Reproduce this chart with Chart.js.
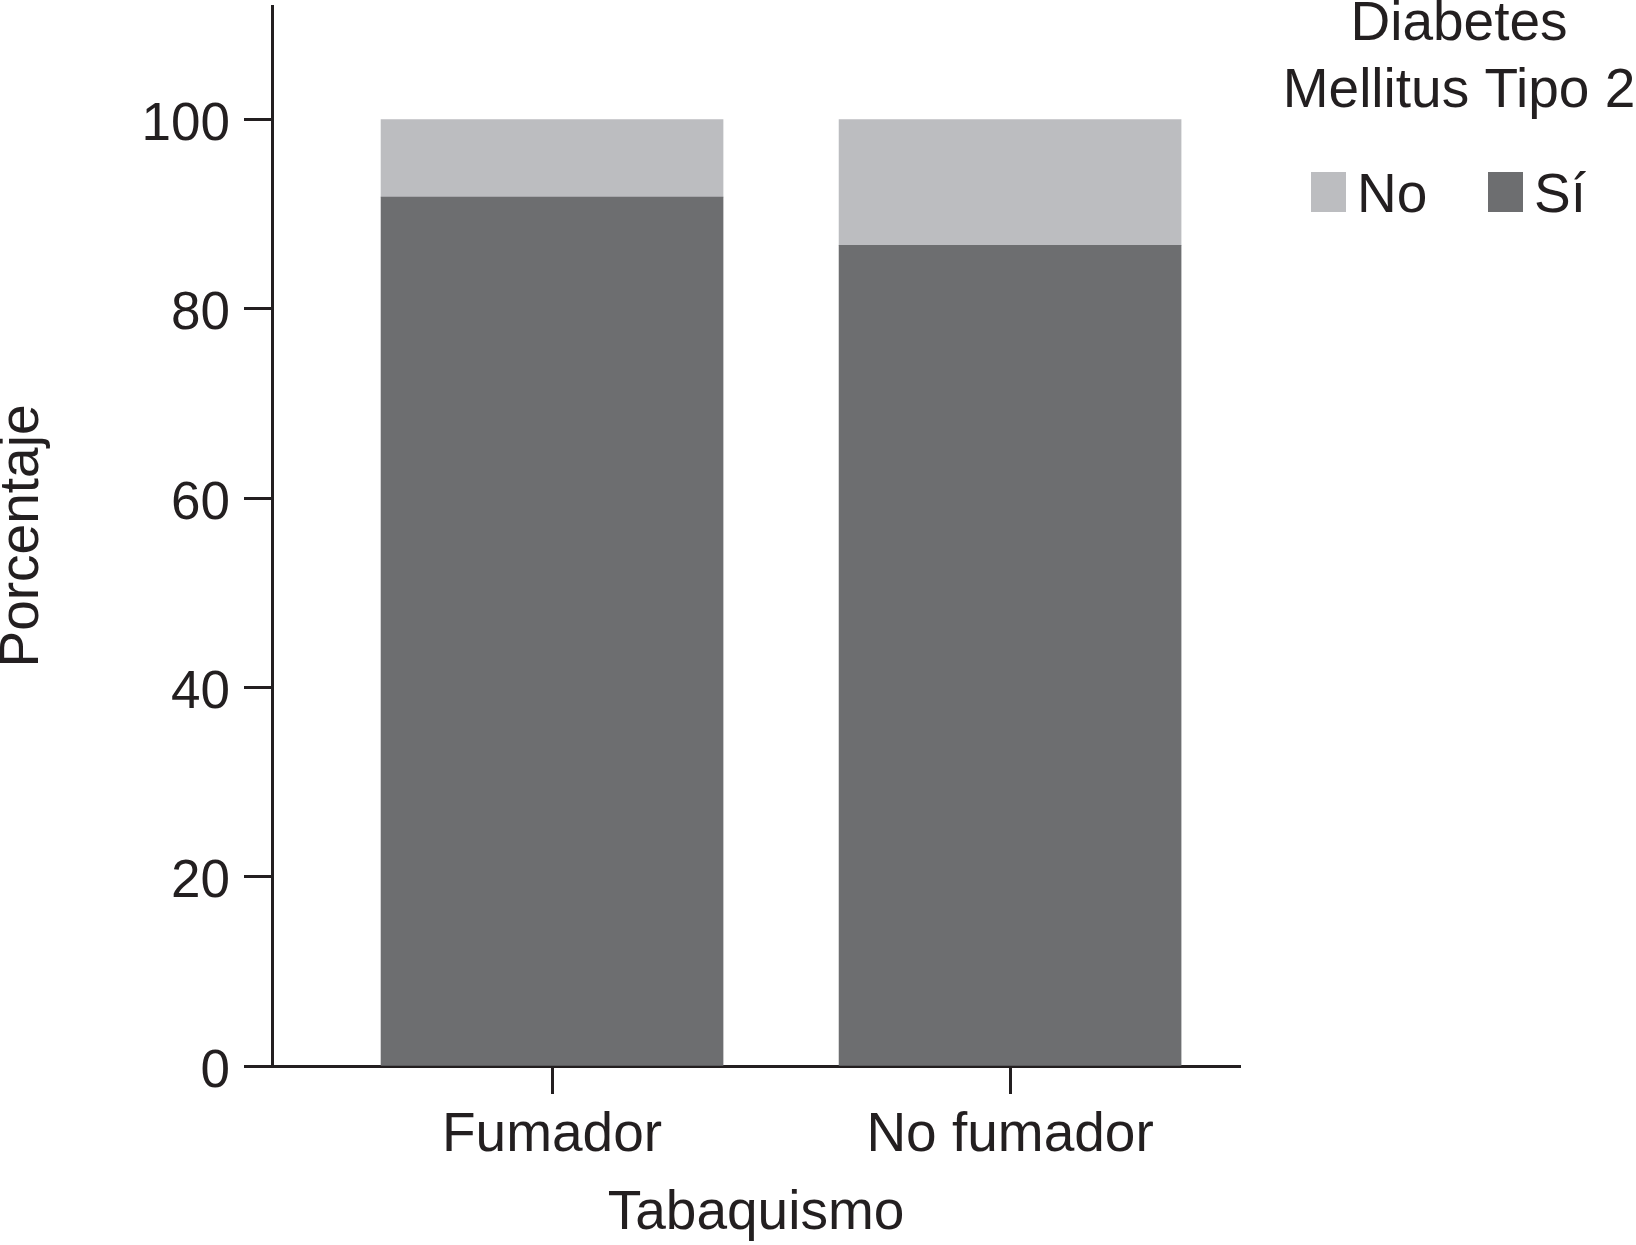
<!DOCTYPE html>
<html>
<head>
<meta charset="utf-8">
<script src="https://cdn.jsdelivr.net/npm/chart.js@4/dist/chart.umd.min.js"></script>
<style>
  html, body { margin: 0; padding: 0; background: #ffffff; }
  #wrap { width: 1636px; height: 1245px; position: relative; }
</style>
</head>
<body>
<div id="wrap"><canvas id="c" width="1636" height="1245"></canvas></div>
<script>
// ---- Data ----
const categories = ['Fumador', 'No fumador'];
const seriesLabels = ['Sí', 'No'];
const siValues = [91.8, 86.7];
const noValues = [8.2, 13.3];
const yTickValues = [0, 20, 40, 60, 80, 100];
const legendTitle = ['Diabetes', 'Mellitus Tipo 2'];
const xTitle = 'Tabaquismo';
const yTitle = 'Porcentaje';

// ---- Styles ----
const FONT = '"Liberation Sans", Arial, Helvetica, sans-serif';
const TEXT = '#231f20';
const DARK = '#6d6e70';
const LIGHT = '#bcbdc0';

const toPoints = vals => vals.map((v, i) => ({ x: i + 1, y: v }));

const legendPlugin = {
  id: 'customLegend',
  afterDraw(chart) {
    const ctx = chart.ctx;
    ctx.save();
    ctx.fillStyle = TEXT;
    ctx.font = '55px ' + FONT;
    ctx.textAlign = 'center';
    ctx.textBaseline = 'alphabetic';
    const cx = 1459;
    legendTitle.forEach((line, i) => ctx.fillText(line, cx, 40 + i * 67));
    const ds = chart.data.datasets.slice().reverse();
    const boxX = [1311, 1488];
    ds.forEach((d, i) => {
      ctx.fillStyle = d.backgroundColor;
      ctx.fillRect(boxX[i], 172, 35, 40);
      ctx.fillStyle = TEXT;
      ctx.textAlign = 'left';
      ctx.fillText(d.label, boxX[i] + 46, 212);
    });
    ctx.restore();
  }
};

new Chart(document.getElementById('c'), {
  type: 'bar',
  data: {
    datasets: [
      { label: seriesLabels[0], data: toPoints(siValues), backgroundColor: DARK, borderWidth: 0, barThickness: 342 },
      { label: seriesLabels[1], data: toPoints(noValues), backgroundColor: LIGHT, borderWidth: 0, barThickness: 342 }
    ]
  },
  options: {
    responsive: false,
    animation: false,
    devicePixelRatio: 1,
    layout: { padding: { top: 6, right: 396, left: 0, bottom: 0 } },
    plugins: {
      legend: { display: false },
      tooltip: { enabled: false },
      title: { display: false }
    },
    scales: {
      x: {
        type: 'linear',
        stacked: true,
        min: 0.3886,
        max: 2.502,
        offset: false,
        afterBuildTicks: s => { s.ticks = categories.map((c, i) => ({ value: i + 1 })); },
        afterFit: s => { s.height = 179; s.paddingLeft = 0; s.paddingRight = 0; s.paddingTop = 0; s.paddingBottom = 0; },
        grid: { display: true, drawOnChartArea: false, drawTicks: true, tickLength: 28, tickWidth: 3, tickColor: TEXT, offset: false },
        border: { display: true, color: TEXT, width: 3 },
        ticks: {
          color: TEXT,
          font: { family: FONT, size: 55 },
          padding: 9,
          maxRotation: 0,
          autoSkip: false,
          callback: v => categories[Math.round(v) - 1] || ''
        },
        title: {
          display: true,
          text: xTitle,
          color: TEXT,
          font: { family: FONT, size: 55, lineHeight: 1 },
          padding: { top: 0, bottom: 4 }
        }
      },
      y: {
        stacked: true,
        min: 0,
        max: 112,
        afterBuildTicks: s => { s.ticks = yTickValues.map(v => ({ value: v })); },
        afterFit: s => { s.width = 272; s.paddingTop = 0; s.paddingBottom = 0; s.paddingLeft = 0; s.paddingRight = 0; },
        grid: { display: true, drawOnChartArea: false, drawTicks: true, tickLength: 28, tickWidth: 3, tickColor: TEXT },
        border: { display: true, color: TEXT, width: 3 },
        ticks: {
          color: TEXT,
          font: { family: FONT, size: 53 },
          padding: 14,
          labelOffset: 6
        },
        title: {
          display: true,
          text: yTitle,
          color: TEXT,
          font: { family: FONT, size: 55, lineHeight: 0.84 },
          padding: { top: 0, bottom: 0 }
        }
      }
    }
  },
  plugins: [legendPlugin]
});
</script>
</body>
</html>
